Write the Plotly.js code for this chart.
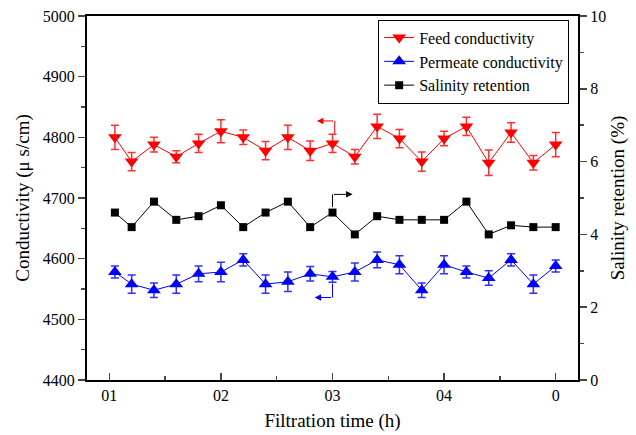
<!DOCTYPE html>
<html><head><meta charset="utf-8">
<script src="https://cdn.plot.ly/plotly-3.0.1.min.js"></script>
<style>html,body{margin:0;padding:0;background:#fff}#chart{width:636px;height:435px}</style>
</head><body><div id="chart"></div>
<script>
const time = [10.5,12,14,16,18,20,22,24,26,28,30,32,34,36,38,40,42,44,46,48,50];
const feed = [4800,4760,4788,4768,4790,4810,4800,4778,4800,4778,4790,4768,4818,4798,4760,4798,4818,4758,4808,4758,4788];
const feedErr = [20,15,12,10,15,19,12,15,20,16,15,12,20,15,16,12,15,21,16,12,20];
const permeate = [4578,4558,4548,4558,4575,4578,4598,4558,4562,4575,4570,4578,4598,4590,4548,4590,4578,4568,4598,4558,4588];
const permeateErr = [10,15,12,15,13,16,10,15,16,12,9,15,13,15,12,15,10,12,10,15,10];
const retention = [4.6,4.2,4.9,4.4,4.5,4.8,4.2,4.6,4.9,4.2,4.6,4.0,4.5,4.4,4.4,4.4,4.9,4.0,4.25,4.2,4.2];
const xTickVals = [10,20,30,40,50];
const xTickText = ["01","02","03","04","0"];
const xMinorVals = [15,25,35,45];

const FONT = "Liberation Serif";

const traces = [
  {x: time, y: feed, name: "Feed conductivity", type: "scatter", mode: "lines+markers",
   line: {color: "#ff0000", width: 1}, marker: {symbol: "triangle-down", size: 12, color: "#ff0000"},
   error_y: {type: "data", array: feedErr, visible: true, color: "#ff3030", thickness: 1.5, width: 4}},
  {x: time, y: permeate, name: "Permeate conductivity", type: "scatter", mode: "lines+markers",
   line: {color: "#0000ff", width: 1}, marker: {symbol: "triangle-up", size: 12, color: "#0000ff"},
   error_y: {type: "data", array: permeateErr, visible: true, color: "#3030ff", thickness: 1.5, width: 4}},
  {x: time, y: retention, name: "Salinity retention", type: "scatter", mode: "lines+markers", yaxis: "y2",
   line: {color: "#000000", width: 1}, marker: {symbol: "square", size: 8, color: "#000000"}}
];

const layout = {
  width: 636, height: 435,
  margin: {l: 87, r: 58, t: 16, b: 55},
  paper_bgcolor: "#fff", plot_bgcolor: "#fff",
  font: {family: FONT, size: 16, color: "#000"},
  showlegend: true,
  legend: {x: 0.982, y: 0.99, xanchor: "right", yanchor: "top", bgcolor: "#fff",
           bordercolor: "#000", borderwidth: 1, font: {family: FONT, size: 16}, tracegroupgap: 0},
  xaxis: {range: [8, 52], tickmode: "array", tickvals: xTickVals, ticktext: xTickText,
          ticks: "inside", ticklen: 7, tickwidth: 1.5, showline: true, linewidth: 2, linecolor: "#000",
          mirror: true, showgrid: false, zeroline: false,
          minor: {tickvals: xMinorVals, ticks: "inside", ticklen: 4, tickwidth: 1.5, showgrid: false},
          tickfont: {family: FONT, size: 16},
          title: {text: "Filtration time (h)", font: {family: FONT, size: 19}, standoff: 10}},
  yaxis: {range: [4400, 5000], dtick: 100, tick0: 4400, ticks: "outside", ticklen: 7, tickwidth: 1.5,
          showline: true, linewidth: 2, linecolor: "#000", showgrid: false, zeroline: false,
          minor: {dtick: 50, ticks: "outside", ticklen: 4, tickwidth: 1.5, showgrid: false},
          tickfont: {family: FONT, size: 16},
          title: {text: "Conductivity (μ s/cm)", font: {family: FONT, size: 19}, standoff: 8}},
  yaxis2: {range: [0, 10], dtick: 2, tick0: 0, overlaying: "y", side: "right",
           ticks: "outside", ticklen: 7, tickwidth: 1.5, showline: true, linewidth: 2, linecolor: "#000",
           showgrid: false, zeroline: false,
           minor: {dtick: 1, ticks: "outside", ticklen: 4, tickwidth: 1.5, showgrid: false},
           tickfont: {family: FONT, size: 16},
           title: {text: "Salinity retention (%)", font: {family: FONT, size: 19}, standoff: 5}},
  shapes: [
    {type: "line", xref: "x", yref: "y", x0: 30.2, x1: 30.2, y0: 4806, y1: 4827, line: {color: "#ff0000", width: 1}},
    {type: "line", xref: "x", yref: "y2", x0: 30, x1: 30, y0: 4.75, y1: 5.1, line: {color: "#000", width: 1}},
    {type: "line", xref: "x", yref: "y", x0: 30, x1: 30, y0: 4559, y1: 4536, line: {color: "#0000ff", width: 1}}
  ],
  annotations: [
    {xref: "x", yref: "y", axref: "x", ayref: "y", x: 28.6, y: 4827, ax: 30.2, ay: 4827, text: "",
     showarrow: true, arrowhead: 2, arrowsize: 1.3, arrowwidth: 1, arrowcolor: "#ff0000"},
    {xref: "x", yref: "y2", axref: "x", ayref: "y2", x: 31.8, y: 5.1, ax: 30, ay: 5.1, text: "",
     showarrow: true, arrowhead: 2, arrowsize: 1.3, arrowwidth: 1, arrowcolor: "#000"},
    {xref: "x", yref: "y", axref: "x", ayref: "y", x: 28.4, y: 4536, ax: 30, ay: 4536, text: "",
     showarrow: true, arrowhead: 2, arrowsize: 1.3, arrowwidth: 1, arrowcolor: "#0000ff"}
  ]
};

Plotly.newPlot("chart", traces, layout, {displayModeBar: false, staticPlot: true});
</script>
</body></html>
